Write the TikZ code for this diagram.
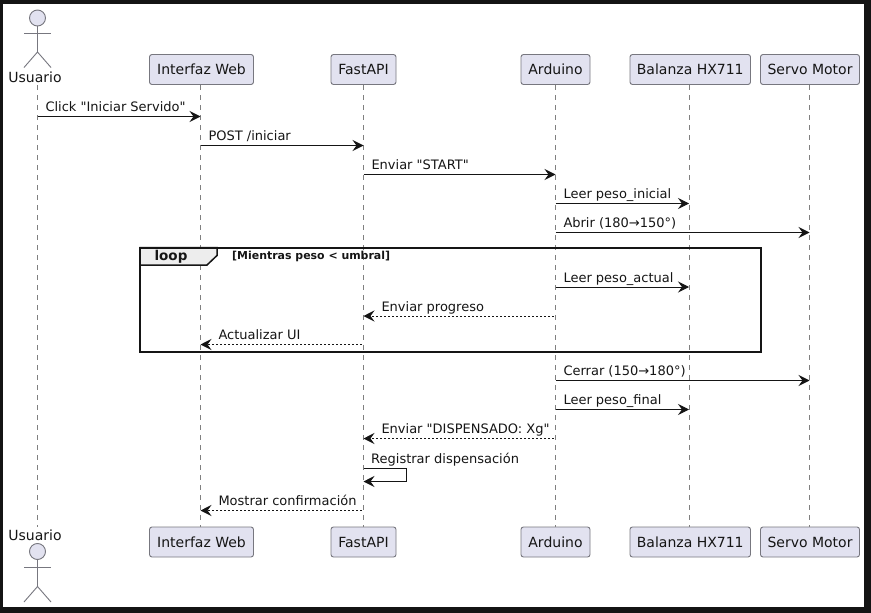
\documentclass[tikz,border=0pt]{standalone}
\usepackage{fontspec}
\newfontfamily\diagramfont{DejaVu Sans}
\usetikzlibrary{positioning, arrows.meta}
\definecolor{partfill}{HTML}{E2E2F0}
\definecolor{partline}{HTML}{77777F}
\definecolor{inktext}{HTML}{151515}

\begin{document}
\begin{tikzpicture}[
	x=1pt, y=-1pt,
	% --- ESTILOS ---
	partblock/.style={
		rectangle, draw=partline, rounded corners=2.5pt, fill=partfill, line width=0.9pt, outer sep=0pt,
		minimum height=30pt, inner sep=0pt, text=inktext, font=\diagramfont\fontsize{14}{16}\selectfont
	},
	actorname/.style={
		inner sep=0pt, text=inktext, font=\diagramfont\fontsize{14}{16}\selectfont
	},
	actorhead/.style={
		circle, draw=partline, fill=partfill, line width=0.9pt, minimum size=16pt, inner sep=0pt
	},
	actorline/.style={
		draw=partline, line width=0.9pt
	},
	lifeline/.style={
		draw=gray, line width=0.8pt, dash pattern=on 5pt off 5pt
	},
	msg/.style={
		draw=inktext, line width=1pt, -{Stealth[length=11pt, width=11pt, inset=4pt]}
	},
	reply/.style={
		msg, dash pattern=on 2pt off 2pt, shorten <=2pt
	},
	msglabel/.style={
		inner sep=0pt, text=inktext, font=\diagramfont\fontsize{13}{15}\selectfont
	},
	golabel/.style={
		msglabel, pos=0, anchor=base west, xshift=7.5pt, yshift=5pt
	},
	backlabel/.style={
		msglabel, pos=1, anchor=base west, xshift=17.5pt, yshift=5pt
	},
	loopframe/.style={
		draw=inktext, line width=2pt
	},
	looptab/.style={
		draw=inktext, fill=black!7, line width=1.5pt
	}
	]
	
	% --- 1. Marco de la imagen ---
	\fill [black!92] (0,0) rectangle (871,613);
	\fill [white] (3,4) rectangle (864,607);
	\useasboundingbox (0,0) rectangle (871,613);
	
	% --- 2. Participantes arriba ---
	\node [partblock, minimum width=104pt] (web) at (201.5,69.5) {Interfaz Web};
	\node [partblock, minimum width=65pt, right=77.5pt of web] (api) {FastAPI};
	\node [partblock, minimum width=69pt, right=125pt of api] (ard) {Arduino};
	\node [partblock, minimum width=120.5pt, right=40pt of ard] (hx) {Balanza HX711};
	\node [partblock, minimum width=99pt, right=10pt of hx] (servo) {Servo Motor};
	
	% --- 3. Participantes abajo ---
	\node [partblock, minimum width=104pt, below=442.5pt of web] (web_b) {Interfaz Web};
	\node [partblock, minimum width=65pt, below=442.5pt of api] (api_b) {FastAPI};
	\node [partblock, minimum width=69pt, below=442.5pt of ard] (ard_b) {Arduino};
	\node [partblock, minimum width=120.5pt, below=442.5pt of hx] (hx_b) {Balanza HX711};
	\node [partblock, minimum width=99pt, below=442.5pt of servo] (servo_b) {Servo Motor};
	
	% --- 4. Actor ---
	\node [actorhead] (head) at (37.5,18) {};
	\coordinate (hip) at (37.5,52);
	\coordinate (arm_l) at (24,33);
	\coordinate (arm_r) at (51,33);
	\coordinate (leg_l) at (24,67.5);
	\coordinate (leg_r) at (51,67.5);
	\draw [actorline] (head.south) -- (hip);
	\draw [actorline] (arm_l) -- (arm_r);
	\draw [actorline] (leg_l) -- (hip) -- (leg_r);
	\node [actorname] (user) at (35,77) {Usuario};
	
	\node [actorname] (user_b) at (35,535) {Usuario};
	\node [actorhead] (head_b) at (37.5,551.5) {};
	\coordinate (hip_b) at (37.5,586.5);
	\coordinate (arm_lb) at (24,567);
	\coordinate (arm_rb) at (51,567);
	\coordinate (leg_lb) at (24,602);
	\coordinate (leg_rb) at (51,602);
	\draw [actorline] (head_b.south) -- (hip_b);
	\draw [actorline] (arm_lb) -- (arm_rb);
	\draw [actorline] (leg_lb) -- (hip_b) -- (leg_rb);
	
	% --- 5. Lineas de vida ---
	\coordinate (l_user) at (37.5,85);
	\coordinate (l_user_b) at (37.5,527);
	\coordinate (l_web) at (200.5,85);
	\coordinate (l_api) at (363.5,85);
	\coordinate (l_ard) at (555.5,85);
	\coordinate (l_hx) at (689,85);
	\coordinate (l_servo) at (809.5,85);
	\draw [lifeline] (l_user) -- (l_user_b);
	\draw [lifeline] (l_web) -- (l_web |- web_b.north);
	\draw [lifeline] (l_api) -- (l_api |- api_b.north);
	\draw [lifeline] (l_ard) -- (l_ard |- ard_b.north);
	\draw [lifeline] (l_hx) -- (l_hx |- hx_b.north);
	\draw [lifeline] (l_servo) -- (l_servo |- servo_b.north);
	
	% --- 6. Bloque loop ---
	\coordinate (loop_nw) at (140,247.5);
	\coordinate (loop_se) at (761,352);
	\draw [looptab] (loop_nw) -- (217,247.5) -- (217,255.5) -- (207,265) -- (140,265) -- cycle;
	\draw [loopframe] (loop_nw) rectangle (loop_se);
	\node [inner sep=0pt, text=inktext, font=\diagramfont\fontsize{13.5}{16}\selectfont\bfseries] (loop_tag) at (171,256.5) {loop};
	\node [inner sep=0pt, text=inktext, font=\diagramfont\fontsize{10.95}{12}\selectfont\bfseries, anchor=west] (loop_cond) at (232,256.5) {[Mientras peso < umbral]};
	
	% --- 7. Mensajes ---
	\coordinate (m1) at (0,116.5);
	\coordinate (m2) at (0,145.5);
	\coordinate (m3) at (0,174.5);
	\coordinate (m4) at (0,203.5);
	\coordinate (m5) at (0,232.5);
	\coordinate (m6) at (0,287);
	\coordinate (m7) at (0,316);
	\coordinate (m8) at (0,344.5);
	\coordinate (m9) at (0,380.5);
	\coordinate (m10) at (0,409.5);
	\coordinate (m11) at (0,438.5);
	\coordinate (m12) at (0,468);
	\coordinate (m13) at (0,481.5);
	\coordinate (m14) at (0,510.5);
	\coordinate (self_turn) at (406,0);
	
	\draw [msg] (m1 -| l_user) -- (m1 -| l_web) node[golabel] (t1) {Click "Iniciar Servido"};
	\draw [msg] (m2 -| l_web) -- (m2 -| l_api) node[golabel] (t2) {POST /iniciar};
	\draw [msg] (m3 -| l_api) -- (m3 -| l_ard) node[golabel] (t3) {Enviar "START"};
	\draw [msg] (m4 -| l_ard) -- (m4 -| l_hx) node[golabel] (t4) {Leer peso\_inicial};
	\draw [msg] (m5 -| l_ard) -- (m5 -| l_servo) node[golabel] (t5) {Abrir (180→150°)};
	
	\draw [msg] (m6 -| l_ard) -- (m6 -| l_hx) node[golabel] (t6) {Leer peso\_actual};
	\draw [reply] (m7 -| l_ard) -- (m7 -| l_api) node[backlabel] (t7) {Enviar progreso};
	\draw [reply] (m8 -| l_api) -- (m8 -| l_web) node[backlabel] (t8) {Actualizar UI};
	
	\draw [msg] (m9 -| l_ard) -- (m9 -| l_servo) node[golabel] (t9) {Cerrar (150→180°)};
	\draw [msg] (m10 -| l_ard) -- (m10 -| l_hx) node[golabel] (t10) {Leer peso\_final};
	\draw [reply] (m11 -| l_ard) -- (m11 -| l_api) node[backlabel] (t11) {Enviar "DISPENSADO: Xg"};
	\draw [msg] (m12 -| l_api) -- (m12 -| self_turn) -- (m13 -| self_turn) -- (m13 -| l_api);
	\node [msglabel, anchor=base west] (t12) at ([xshift=7.5pt, yshift=5pt]m12 -| l_api) {Registrar dispensación};
	\draw [reply] (m14 -| l_api) -- (m14 -| l_web) node[backlabel] (t13) {Mostrar confirmación};
	
\end{tikzpicture}
\end{document}
